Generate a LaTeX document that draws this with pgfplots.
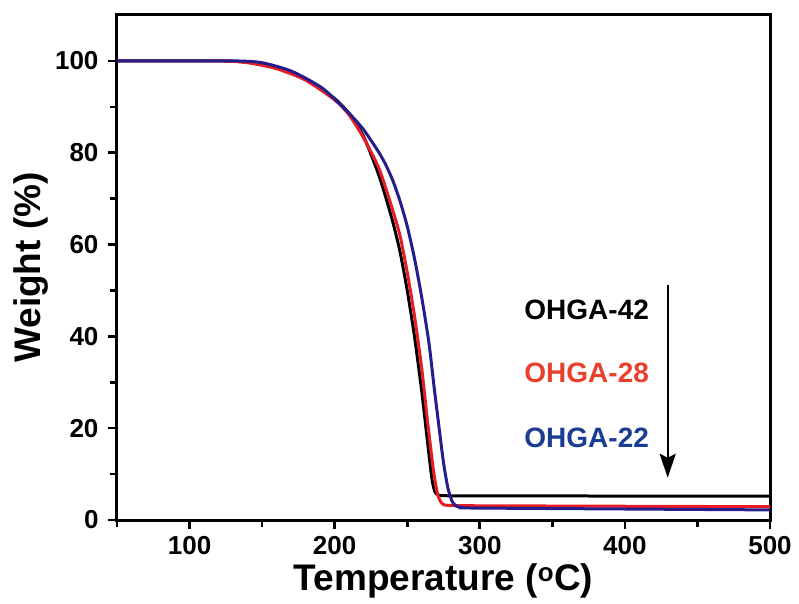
\documentclass[border=0pt]{standalone}
\usepackage{fontspec}
\setmainfont{Liberation Sans}
\usepackage{pgfplots}
\pgfplotsset{compat=1.18}
\usetikzlibrary{arrows.meta}

\definecolor{tgared}{RGB}{232,28,36}
\definecolor{tgablue}{RGB}{36,30,140}
\definecolor{lblred}{RGB}{232,64,44}
\definecolor{lblblue}{RGB}{26,60,146}

\begin{document}
\begin{tikzpicture}
\begin{axis}[name=ax,
  scale only axis, width=653pt, height=505pt,
  xmin=50, xmax=500, ymin=0, ymax=110,
  xtick={100,200,300,400,500}, ytick={0,20,40,60,80,100},
  minor x tick num=1, minor y tick num=1,
  extra x ticks={50}, extra x tick labels={},
  extra x tick style={major tick length=7pt},
  tick pos=left, tick align=outside,
  major tick length=9pt, minor tick length=7pt,
  axis line style={line width=3pt},
  every tick/.style={line width=2.6pt, black},
  /pgf/number format/assume math mode=true,
  ticklabel style={font=\bfseries\fontsize{26}{28}\selectfont},
  yticklabel style={xshift=-6pt},
  xticklabel style={yshift=-4pt},
  xlabel={\textbf{Temperature (\textsuperscript{o}C)}},
  ylabel={\textbf{Weight (\%)}},
  label style={font=\bfseries\fontsize{37}{39}\selectfont},
  xlabel style={yshift=14pt},
]
% OHGA-42
\addplot[black, line width=3pt, smooth, tension=0.4] coordinates {
(50,100) (120,100) (140,99.7) (160,98.6) (180,96.2) (200,91.8) (210,88.5)
(220,83.5) (230,75.5) (235,70.5) (240,65) (245,58.5) (250,50) (255,40)
(260,28) (264,17) (267,9) (269,6.2) (271,5.5) (275,5.3) (300,5.25) (500,5.2)
};
% OHGA-28
\addplot[tgared, line width=3pt, smooth, tension=0.4] coordinates {
(50,100) (120,100) (140,99.6) (160,98.3) (180,95.8) (200,91.5) (210,88.2)
(220,83.2) (230,77) (235,72.5) (240,67.5) (245,62) (250,54) (255,44.5)
(260,33) (264,21.5) (268,11) (271,5.5) (274,3.6) (278,3.2) (300,3.1) (500,2.9)
};
% OHGA-22
\addplot[tgablue, line width=3pt, smooth, tension=0.4] coordinates {
(50,100) (130,100) (150,99.6) (170,97.8) (190,94.4) (200,91.7) (210,88.6)
(220,85) (230,80.3) (235,77.5) (240,74) (245,69.5) (250,64) (255,57)
(260,48.5) (265,38.5) (268.5,29) (272,20) (275,12.5) (278,7) (281,4)
(284,3) (288,2.7) (300,2.6) (500,2.2)
};
\node[anchor=east, font=\bfseries\fontsize{28}{30}\selectfont, text=black] at (axis cs:419,45.8) {OHGA-42};
\node[anchor=east, font=\bfseries\fontsize{28}{30}\selectfont, text=lblred] at (axis cs:419,32) {OHGA-28};
\node[anchor=east, font=\bfseries\fontsize{28}{30}\selectfont, text=lblblue] at (axis cs:419,17.9) {OHGA-22};
\draw[line width=1.8pt, -{Stealth[length=24pt,width=16pt,inset=4pt]}] (axis cs:429.5,51.2) -- (axis cs:429.5,9.2);
\end{axis}
\pgfresetboundingbox
\path[use as bounding box] ([xshift=-117pt,yshift=-83pt]ax.south west) rectangle ([xshift=29pt,yshift=15pt]ax.north east);
\end{tikzpicture}
\end{document}
